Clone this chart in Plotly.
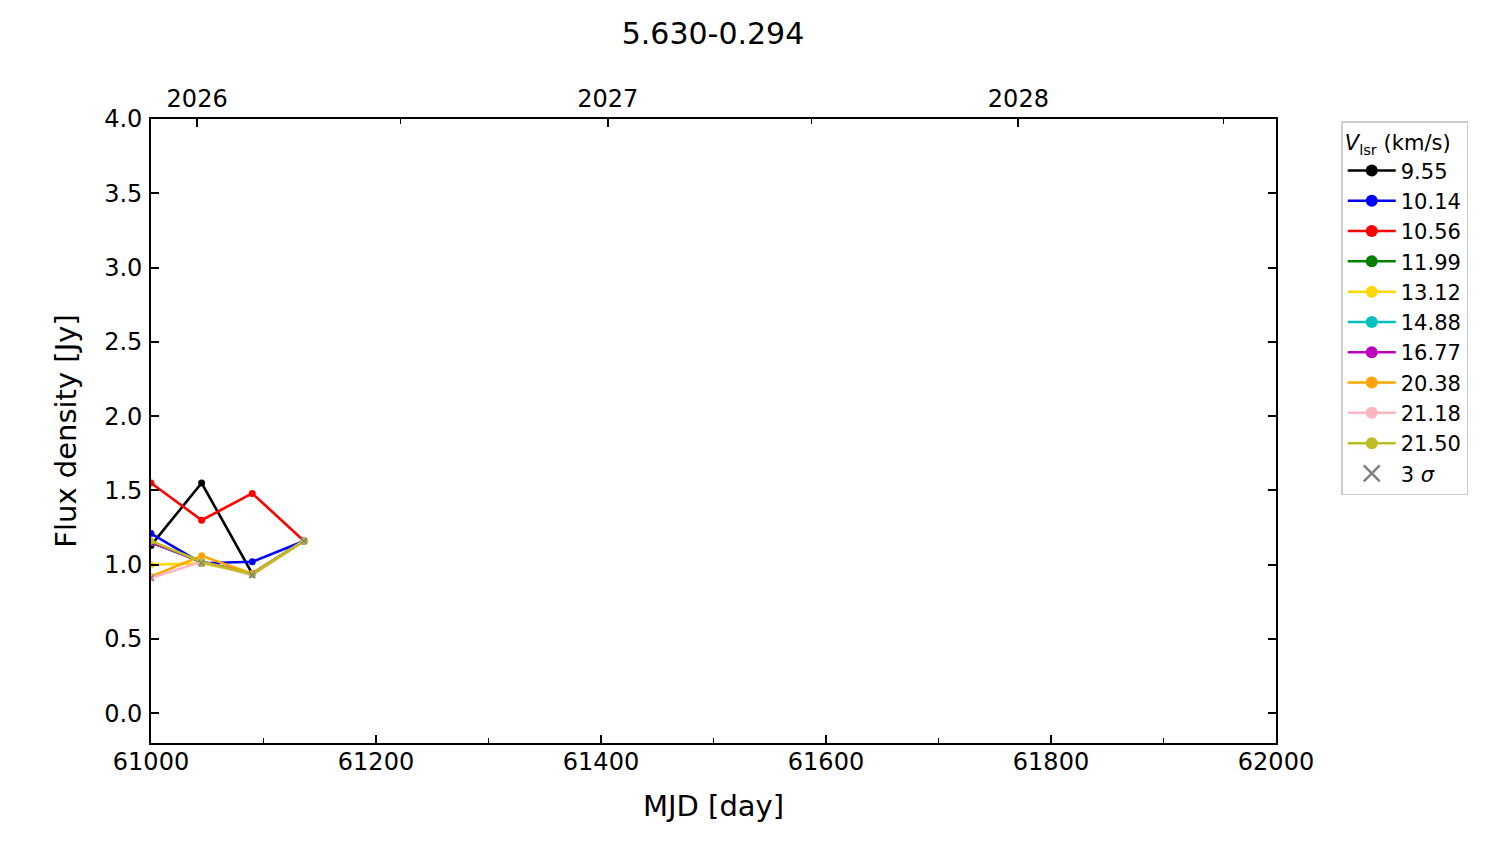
import plotly.graph_objects as go

mjd = [61000, 61045, 61090, 61136]

vlsr = ["9.55", "10.14", "10.56", "11.99", "13.12", "14.88", "16.77", "20.38", "21.18", "21.50"]
colors = ["#000000", "#0000ff", "#ff0000", "#008000", "#ffd700", "#00bfbf", "#bf00bf", "#ffa500", "#ffb6c1", "#bcbd22"]

flux = {
    "9.55":  [1.13, 1.55, 0.94, 1.16],
    "10.14": [1.21, 1.01, 1.02, 1.16],
    "10.56": [1.55, 1.30, 1.48, 1.16],
    "11.99": [1.15, 1.02, 0.94, 1.16],
    "13.12": [1.00, 1.01, 0.94, 1.16],
    "14.88": [1.15, 1.02, 0.94, 1.16],
    "16.77": [1.15, 1.02, 0.94, 1.16],
    "20.38": [0.92, 1.06, 0.94, 1.16],
    "21.18": [0.91, 1.02, 0.93, 1.16],
    "21.50": [1.16, 1.02, 0.935, 1.16],
}

sigma3 = [0.91, 1.01, 0.93, 1.16]

year_mjd = [61041, 61406, 61771]
year_labels = ["2026", "2027", "2028"]
halfyear_mjd = [61222, 61587, 61953]

fig = go.Figure()

for v, c in zip(vlsr, colors):
    fig.add_trace(go.Scatter(
        x=mjd, y=flux[v], mode="lines+markers", name=v, showlegend=False,
        line=dict(color=c, width=2.6),
        marker=dict(color=c, size=7, symbol="circle"),
    ))

fig.add_trace(go.Scatter(
    x=mjd, y=sigma3, mode="markers", showlegend=False,
    marker=dict(color="gray", size=6, symbol="x-thin", line=dict(color="gray", width=1.5)),
))

# legend-only entries (larger symbols, as in the reference legend)
for v, c in zip(vlsr, colors):
    fig.add_trace(go.Scatter(
        x=[None], y=[None], mode="lines+markers", name=v,
        line=dict(color=c, width=2.5),
        marker=dict(color=c, size=12, symbol="circle"),
    ))
fig.add_trace(go.Scatter(
    x=[None], y=[None], mode="markers", name="3 <i>σ</i>",
    marker=dict(color="gray", size=16, symbol="x-thin", line=dict(color="gray", width=2.5)),
))

# invisible trace for top axis
fig.add_trace(go.Scatter(x=[61000, 62000], y=[None, None], xaxis="x2", showlegend=False,
                         hoverinfo="skip", mode="lines"))

font_family = "DejaVu Sans"

fig.update_layout(
    width=1500, height=844,
    paper_bgcolor="white", plot_bgcolor="white",
    font=dict(family=font_family, color="black", size=24),
    title=dict(text="5.630-0.294", x=0.47, xanchor="center", y=0.97, yanchor="middle",
               font=dict(size=30, family=font_family)),
    margin=dict(l=143, r=232, t=111, b=109, autoexpand=False),
    xaxis=dict(
        range=[61000, 62000], dtick=200, tick0=61000, tickformat="d",
        ticks="inside", ticklen=8, tickwidth=1.5, tickcolor="black",
        showline=True, linecolor="black", linewidth=1.6,
        showgrid=False, zeroline=False, automargin=False,
        tickfont=dict(size=24), ticklabelstandoff=-4,
        title=dict(text="MJD [day]", font=dict(size=29), standoff=21),
        minor=dict(dtick=100, tick0=61000, ticks="inside", ticklen=5, tickwidth=1, tickcolor="black"),
    ),
    xaxis2=dict(
        range=[61000, 62000], overlaying="x", side="top", anchor="y",
        tickmode="array", tickvals=year_mjd, ticktext=year_labels,
        ticks="inside", ticklen=8, tickwidth=1.5, tickcolor="black",
        showline=True, linecolor="black", linewidth=1.6,
        showgrid=False, zeroline=False, automargin=False,
        tickfont=dict(size=24), ticklabelstandoff=1,
        minor=dict(tickmode="array", tickvals=halfyear_mjd, ticks="inside", ticklen=5,
                   tickwidth=1, tickcolor="black"),
    ),
    yaxis=dict(
        range=[-0.2, 4.0], dtick=0.5, tick0=0, tickformat=".1f",
        ticks="inside", ticklen=8, tickwidth=1.5, tickcolor="black",
        showline=True, linecolor="black", linewidth=1.6, mirror="ticks",
        showgrid=False, zeroline=False, automargin=False,
        tickfont=dict(size=24), ticklabelstandoff=2,
        title=dict(text="Flux density [Jy]", font=dict(size=29), standoff=19),
    ),
    legend=dict(
        title=dict(text="<i>V</i><sub>lsr</sub> (km/s)", font=dict(size=21), side="top"),
        x=1.058, xanchor="left", y=0.996, yanchor="top",
        bordercolor="#cccccc", borderwidth=1.5, bgcolor="white",
        font=dict(size=21), tracegroupgap=0, itemwidth=48,
    ),
)

fig.write_html("out.html")
